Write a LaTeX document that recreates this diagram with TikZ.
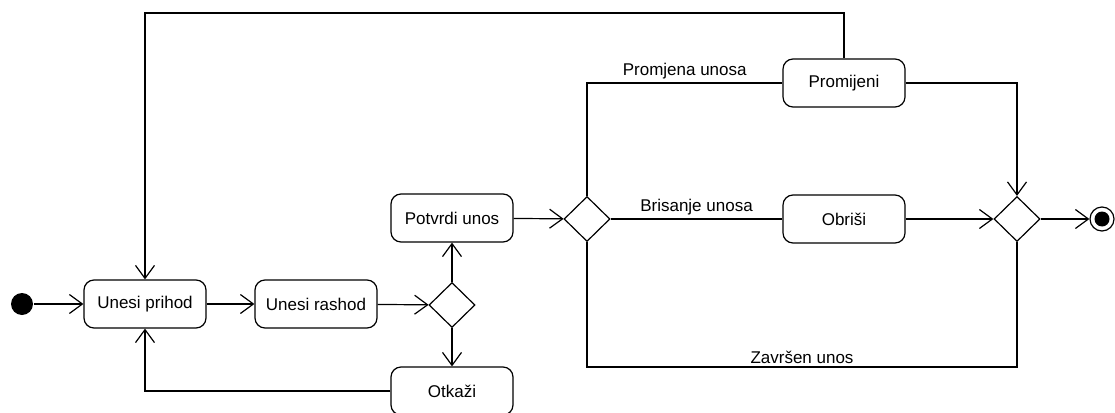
\documentclass[tikz,border=0pt]{standalone}
\usepackage{fontspec}
\setmainfont{Liberation Sans}
\usetikzlibrary{shapes.geometric,arrows.meta}

\begin{document}
\begin{tikzpicture}[x=1pt, y=-1pt, line width=1.2pt, font=\fontsize{17}{20}\selectfont]
        \tikzstyle{activity} = [draw, rounded corners=10pt, minimum width=122pt, minimum height=48pt, inner sep=2pt]
        \tikzstyle{choice} = [draw, shape = diamond, minimum width=46pt, minimum height=45pt, inner sep=0pt]
        \tikzstyle{flow} = [-{Straight Barb[length=13pt, width=19pt]}]
        \tikzstyle{guard} = [inner sep=3pt]
        \useasboundingbox (0,0) rectangle (1115,412);
        \node[shape = circle, fill = black, minimum size = 22pt, inner sep = 0pt] (start) at (22, 304) {};
        \node[activity] (prihod) at (145, 304) {Unesi prihod};
        \node[activity] (rashod) at (316, 304) {Unesi rashod};
        \node[choice] (odluka) at (452, 305) {};
        \node[activity] (potvrdi) at (452, 218) {Potvrdi unos};
        \node[activity] (otkazi) at (452, 391) {Otkaži};
        \node[choice] (izbor) at (587, 219) {};
        \node[activity] (promijeni) at (844, 83) {Promijeni};
        \node[activity] (obrisi) at (844, 219) {Obriši};
        \node[choice] (spoj) at (1017, 219) {};
        \node[shape = circle, draw, minimum size = 24pt, inner sep = 0pt] (kraj) at (1102, 219) {};
        \fill (kraj.center) circle (7.5pt);
        \coordinate (vrh) at (844, 13);
        \coordinate (dno) at (587, 367);
        \draw[flow] (start) -- (prihod);
        \draw[flow] (prihod) -- (rashod);
        \draw[flow] (rashod) -- (odluka);
        \draw[flow] (odluka) -- (potvrdi);
        \draw[flow] (odluka) -- (otkazi);
        \draw[flow] (otkazi.west) -| (prihod.south);
        \draw[flow] (potvrdi) -- (izbor);
        \draw (izbor.north) |- (promijeni.west) node[guard, pos=0.75, above] {Promjena unosa};
        \draw (izbor.east) -- (obrisi.west) node[guard, midway, above] {Brisanje unosa};
        \draw (izbor.south) -- (dno) -| (spoj.south) node[guard, pos=0.25, above] {Završen unos};
        \draw[flow] (promijeni.east) -| (spoj.north);
        \draw[flow] (obrisi) -- (spoj);
        \draw[flow] (spoj) -- (kraj);
        \draw[flow] (promijeni.north) -- (vrh) -| (prihod.north);
      \end{tikzpicture}
\end{document}
